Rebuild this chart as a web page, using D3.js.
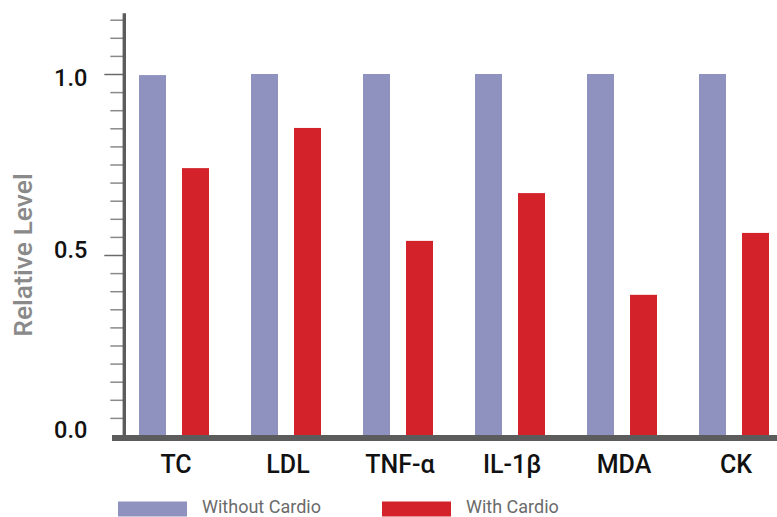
<!DOCTYPE html>
<html>
<head>
<meta charset="utf-8">
<script src="https://cdn.jsdelivr.net/npm/d3@7"></script>
<style>
  html, body { margin: 0; padding: 0; background: #fff; }
  svg { display: block; font-family: Roboto, "Noto Sans", sans-serif; }
</style>
</head>
<body>
<svg id="chart" width="777" height="517"></svg>
<script>
// ---- data ----
const categories = ["TC", "LDL", "TNF-\u03b1", "IL-1\u03b2", "MDA", "CK"];
const seriesNames = ["Without Cardio", "With Cardio"];
const withoutCardio = [0.997, 1.0, 1.0, 1.0, 1.0, 1.0];
const withCardio = [0.74, 0.851, 0.539, 0.671, 0.39, 0.561];
const yTickLabels = [0.0, 0.5, 1.0];
const yMinorTicks = d3.range(0, 1.1501, 0.05);

const colors = { "Without Cardio": "#8f92bf", "With Cardio": "#d3222a" };

const svg = d3.select("#chart");

// ---- scales ----
const y = d3.scaleLinear().domain([0, 1]).range([436, 74]);
const x0 = d3.scaleBand().domain(categories).range([118, 790]).padding(0);
const x1 = d3.scaleBand().domain(seriesNames).range([21, 91]).paddingInner(0.372).paddingOuter(0);

const rows = categories.map((c, i) => ({
  cat: c,
  values: [
    { key: seriesNames[0], value: withoutCardio[i] },
    { key: seriesNames[1], value: withCardio[i] }
  ]
}));

// ---- bars ----
const groups = svg.append("g").selectAll("g").data(rows).join("g")
  .attr("transform", d => `translate(${x0(d.cat)},0)`);
groups.selectAll("rect").data(d => d.values).join("rect")
  .attr("x", d => x1(d.key))
  .attr("width", x1.bandwidth())
  .attr("y", d => y(d.value))
  .attr("height", d => y(0) - y(d.value))
  .attr("fill", d => colors[d.key]);

// ---- y axis: minor ticks ----
const axisX = 124.3;
const minorAxis = d3.axisLeft(y).tickValues(yMinorTicks.filter(v => !yTickLabels.some(m => Math.abs(m - v) < 1e-6)))
  .tickSize(14).tickFormat("");
const gMinor = svg.append("g").attr("transform", `translate(${axisX},0)`).call(minorAxis);
gMinor.select(".domain").remove();
gMinor.selectAll(".tick line").attr("stroke", "#8a8a8a").attr("stroke-width", 1.5);

// ---- y axis: major ticks + labels ----
const labelNudge = v => (v === 1 ? 3 : v === 0.5 ? -6 : -7);
const majorAxis = d3.axisLeft(y).tickValues(yTickLabels).tickSize(20).tickPadding(17)
  .tickFormat(d3.format(".1f"));
const gMajor = svg.append("g").attr("transform", `translate(${axisX},0)`).call(majorAxis);
gMajor.select(".domain").remove();
gMajor.selectAll(".tick line").attr("stroke", "#6a6a6a").attr("stroke-width", 1.5);
gMajor.selectAll(".tick text")
  .attr("font-family", "Roboto, sans-serif")
  .attr("font-size", 23.5)
  .attr("font-weight", 500)
  .attr("fill", "#111")
  .attr("dy", null)
  .attr("dominant-baseline", "central")
  .attr("y", d => labelNudge(d));
gMajor.selectAll(".tick line").filter(d => d === 0).remove();

// vertical axis line
svg.append("line")
  .attr("x1", axisX).attr("x2", axisX)
  .attr("y1", y(1.168)).attr("y2", y(0) + 2)
  .attr("stroke", "#5c5c5c").attr("stroke-width", 3.4);

// ---- x axis ----
svg.append("rect")
  .attr("x", 112).attr("y", 435)
  .attr("width", 777 - 112).attr("height", 6)
  .attr("fill", "#5c5c5c");

const xAxis = d3.axisBottom(x0).tickSize(0).tickPadding(0);
const gx = svg.append("g").attr("transform", `translate(2,${y(0)})`).call(xAxis);
gx.select(".domain").remove();
gx.selectAll(".tick text")
  .attr("font-family", "Roboto, sans-serif")
  .attr("font-size", 25)
  .attr("font-weight", 500)
  .attr("fill", "#111")
  .attr("dy", null)
  .attr("y", 37);

// ---- y title ----
svg.append("text")
  .attr("transform", `translate(31.5,255) rotate(-90)`)
  .attr("text-anchor", "middle")
  .attr("font-size", 26.5)
  .attr("font-weight", 500)
  .attr("fill", "#8a8a8a")
  .text("Relative Level");

// ---- legend ----
const legendItems = [
  { key: seriesNames[0], x: 118 },
  { key: seriesNames[1], x: 382 }
];
const lg = svg.append("g").selectAll("g").data(legendItems).join("g")
  .attr("transform", d => `translate(${d.x},501.5)`);
lg.append("rect").attr("width", 69).attr("height", 15).attr("fill", d => colors[d.key]);
lg.append("text")
  .attr("x", 84).attr("y", 11)
  .attr("font-size", 18)
  .attr("fill", "#6b6b6b")
  .text(d => d.key);
</script>
</body>
</html>
